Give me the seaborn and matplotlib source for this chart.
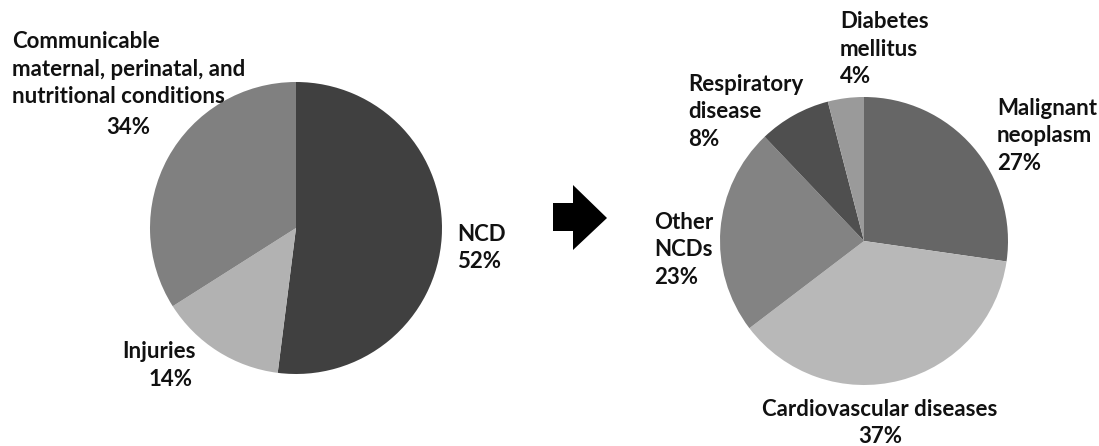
import matplotlib
matplotlib.use("Agg")
import matplotlib.pyplot as plt
from matplotlib.patches import Polygon
import seaborn as sns

# Deaths by broad cause group
broad_labels = ["NCD", "Injuries", "Communicable\nmaternal, perinatal, and\nnutritional conditions"]
broad_values = [52, 14, 34]
broad_colors = ["#404040", "#b2b2b2", "#808080"]

# Breakdown of non-communicable diseases
ncd_labels = ["Malignant\nneoplasm", "Cardiovascular diseases", "Other\nNCDs",
              "Respiratory\ndisease", "Diabetes\nmellitus"]
ncd_values = [27, 37, 23, 8, 4]
ncd_colors = ["#666666", "#b8b8b8", "#838383", "#4f4f4f", "#9a9a9a"]

sns.set_style("white")
plt.rcParams["font.family"] = ["Lato", "DejaVu Sans"]

W, H = 1099, 446
fig = plt.figure(figsize=(W / 100, H / 100), dpi=100)


def px_axes(cx, cy, r):
    return fig.add_axes([(cx - r) / W, 1 - (cy + r) / H, 2 * r / W, 2 * r / H])


ax1 = px_axes(296, 228, 146)
ax1.pie(broad_values, colors=sns.color_palette(broad_colors), startangle=90,
        counterclock=False, radius=1.0, wedgeprops=dict(linewidth=0))
ax1.set_xlim(-1, 1); ax1.set_ylim(-1, 1); ax1.set_aspect("equal"); ax1.axis("off")

ax2 = px_axes(864, 241, 144)
ax2.pie(ncd_values, colors=sns.color_palette(ncd_colors), startangle=90,
        counterclock=False, radius=1.0, wedgeprops=dict(linewidth=0))
ax2.set_xlim(-1, 1); ax2.set_ylim(-1, 1); ax2.set_aspect("equal"); ax2.axis("off")

txt = dict(fontsize=16, fontweight="bold", color="#111111", linespacing=1.4)


def put(x, y, s, ha="left", va="center"):
    fig.text(x / W, 1 - y / H, s, ha=ha, va=va, multialignment=ha, **txt)


def label(x, y, name, value, ha="left"):
    put(x, y, f"{name}\n{value}%", ha=ha)


# Left pie labels: name block and percentage placed separately
put(12, 69, broad_labels[2])
put(128, 127, f"{broad_values[2]}%", ha="center")
put(122, 351, broad_labels[1])
put(171, 379, f"{broad_values[1]}%", ha="center")
label(457, 248, broad_labels[0], broad_values[0])

# Right pie labels
label(997, 136, ncd_labels[0], ncd_values[0])
label(880, 423, ncd_labels[1], ncd_values[1], ha="center")
label(654, 250, ncd_labels[2], ncd_values[2])
label(688, 112, ncd_labels[3], ncd_values[3])
label(840, 49, ncd_labels[4], ncd_values[4])

# Arrow between the two pies
arrow_px = [(553, 203), (573, 203), (573, 185), (607, 218),
            (573, 250), (573, 231), (553, 231)]
fig.patches.append(Polygon([(x / W, 1 - y / H) for x, y in arrow_px], closed=True,
                           transform=fig.transFigure, facecolor="black",
                           edgecolor="none", figure=fig))

fig.savefig("out.png", dpi=100, facecolor="white")
